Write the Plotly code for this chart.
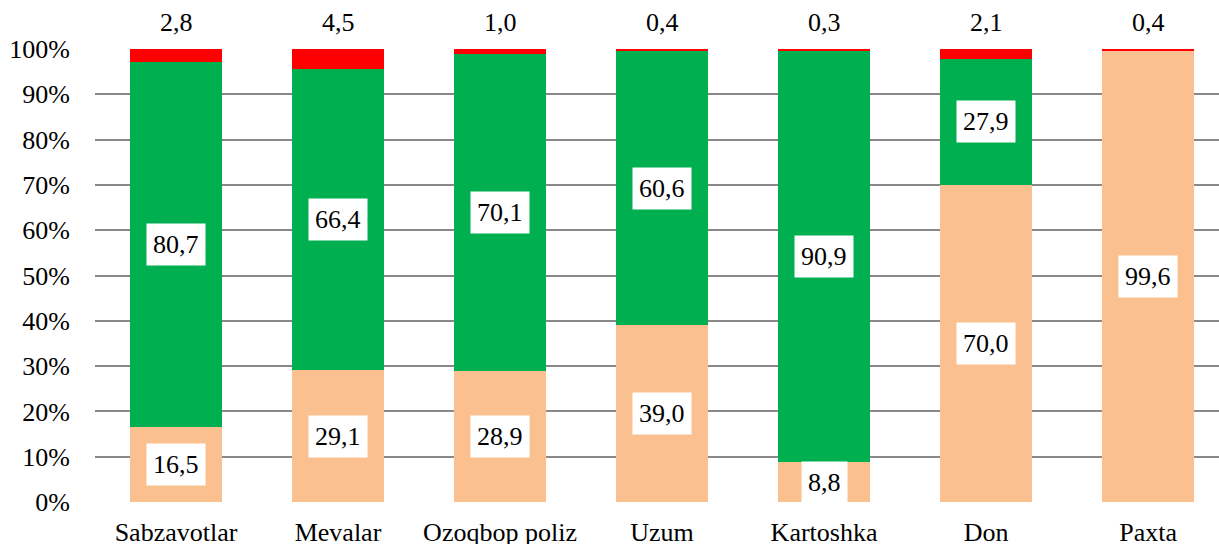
import plotly.graph_objects as go

categories = ["Sabzavotlar", "Mevalar", "Ozoqbop poliz", "Uzum", "Kartoshka", "Don", "Paxta"]
bottom_vals = [16.5, 29.1, 28.9, 39.0, 8.8, 70.0, 99.6]
middle_vals = [80.7, 66.4, 70.1, 60.6, 90.9, 27.9, 0.0]
top_vals = [2.8, 4.5, 1.0, 0.4, 0.3, 2.1, 0.4]
y_ticks = [0, 10, 20, 30, 40, 50, 60, 70, 80, 90, 100]
y_tick_labels = [f"{v}%" for v in y_ticks]

FONT = "'Times New Roman', 'Liberation Serif', serif"
FS = 26

def fmt(v):
    return f"{v:.1f}".replace(".", ",")

fig = go.Figure()
fig.add_trace(go.Bar(x=categories, y=bottom_vals, marker=dict(color="#FAC090", line=dict(width=0)), name="b"))
fig.add_trace(go.Bar(x=categories, y=middle_vals, marker=dict(color="#00B050", line=dict(width=0)), name="m"))
fig.add_trace(go.Bar(x=categories, y=top_vals, marker=dict(color="#FF0000", line=dict(width=0)), name="t"))

ann = []
for c, b, m, t in zip(categories, bottom_vals, middle_vals, top_vals):
    if b > 0:
        ann.append(dict(x=c, y=b / 2, text=fmt(b), showarrow=False, bgcolor="white",
                        borderpad=6, font=dict(family=FONT, size=FS, color="black")))
    if m > 0:
        ann.append(dict(x=c, y=b + m / 2, text=fmt(m), showarrow=False, bgcolor="white",
                        borderpad=6, font=dict(family=FONT, size=FS, color="black")))
    ann.append(dict(x=c, y=100, text=fmt(t), showarrow=False, yanchor="bottom", yshift=10,
                    font=dict(family=FONT, size=FS, color="black")))

fig.update_layout(
    barmode="stack",
    bargap=0.43,
    width=1219, height=544,
    margin=dict(l=95, r=0, t=49, b=42),
    paper_bgcolor="white", plot_bgcolor="white",
    showlegend=False,
    annotations=ann,
    font=dict(family=FONT, size=FS, color="black"),
    xaxis=dict(range=[-0.5, 6.438], showgrid=False, ticks="", ticklabelstandoff=12,
               automargin=False, tickfont=dict(family=FONT, size=FS, color="black")),
    yaxis=dict(range=[0, 100], tickvals=y_ticks, ticktext=y_tick_labels, showgrid=True,
               gridcolor="#898989", gridwidth=1.5, zeroline=False, ticks="",
               automargin=False, ticklabelstandoff=24,
               tickfont=dict(family=FONT, size=FS, color="black")),
)

fig.write_html("out.html", config={"displayModeBar": False},
               post_script="document.body.style.margin='0';document.body.style.overflow='hidden';")
